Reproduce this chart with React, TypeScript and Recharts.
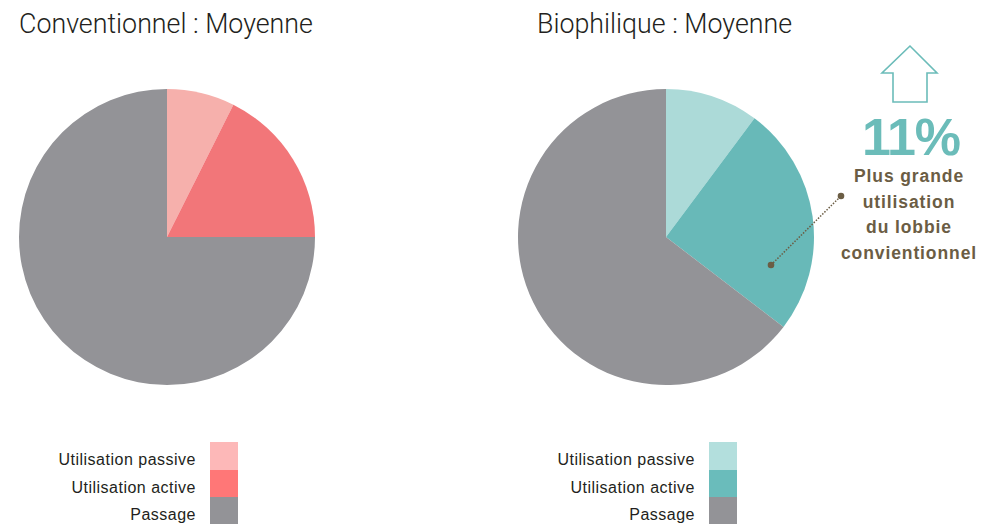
import { Pie, PieChart, Cell } from "recharts";

// slice categories, shared by both pies
const categories = ["Utilisation passive", "Utilisation active", "Passage"];

// percent shares
const conventionnelValues = [7.4, 17.6, 75];
const biophiliqueValues = [10.2, 25.2, 64.6];

const titles = ["Conventionnel : Moyenne", "Biophilique : Moyenne"];

const conventionnelColors = ["#f6b0ac", "#f27679", "#939397"];
const biophiliqueColors = ["#acdad8", "#68b9b8", "#939397"];
const conventionnelLegendColors = ["#fdb8b8", "#ff7777", "#939397"];
const biophiliqueLegendColors = ["#b3dfdd", "#6abcbb", "#939397"];

const highlight = "11%";
const highlightLines = ["Plus grande", "utilisation", "du lobbie", "convientionnel"];

const toData = (values: number[]) =>
  categories.map((name, i) => ({ name, value: values[i] }));

const W = 983;
const H = 524;

function Legend({ right, colors }: { right: number; colors: string[] }) {
  return (
    <div style={{ position: "absolute", left: right - 200, top: 442 }}>
      {categories.map((c, i) => (
        <div key={c} style={{ display: "flex", alignItems: "center", height: i === 0 ? 28 : 27 }}>
          <span
            style={{
              width: 200,
              textAlign: "right",
              fontSize: 16,
              letterSpacing: 0.5,
              color: "#231f20",
              fontFamily: "'Liberation Sans', Arial, sans-serif",
              paddingRight: 14,
              paddingTop: 8,
              boxSizing: "border-box",
            }}
          >
            {c}
          </span>
          <span style={{ width: 28, height: "100%", background: colors[i] }} />
        </div>
      ))}
    </div>
  );
}

export default function App() {
  const titleStyle: React.CSSProperties = {
    position: "absolute",
    top: 8,
    fontSize: 26.8,
    fontWeight: 300,
    color: "#231f20",
    fontFamily: "Roboto, 'Liberation Sans', sans-serif",
    whiteSpace: "nowrap",
  };
  return (
    <div
      style={{
        position: "absolute",
        left: 0,
        top: 0,
        width: W,
        height: H,
        background: "#fff",
        overflow: "hidden",
      }}
    >
      <div style={{ ...titleStyle, left: 19 }}>{titles[0]}</div>
      <div style={{ ...titleStyle, left: 537 }}>{titles[1]}</div>

      <div style={{ position: "absolute", left: 0, top: 0 }}>
        <PieChart width={W} height={H} margin={{ top: 0, right: 0, bottom: 0, left: 0 }}>
          <Pie
            data={toData(conventionnelValues)}
            dataKey="value"
            nameKey="name"
            cx={167}
            cy={237}
            outerRadius={148}
            startAngle={90}
            endAngle={-270}
            stroke="none"
            isAnimationActive={false}
          >
            {conventionnelColors.map((c) => (
              <Cell key={c} fill={c} />
            ))}
          </Pie>
          <Pie
            data={toData(biophiliqueValues)}
            dataKey="value"
            nameKey="name"
            cx={666}
            cy={237}
            outerRadius={148}
            startAngle={90}
            endAngle={-270}
            stroke="none"
            isAnimationActive={false}
          >
            {biophiliqueColors.map((c) => (
              <Cell key={c} fill={c} />
            ))}
          </Pie>
        </PieChart>
      </div>

      <svg
        width={W}
        height={H}
        style={{ position: "absolute", left: 0, top: 0, pointerEvents: "none" }}
      >
        <polygon
          points="910,46 882,73 893,73 893,102 927,102 927,73 937,73"
          fill="none"
          stroke="#6bbcb9"
          strokeWidth={1.6}
        />
        <line
          x1={771}
          y1={265}
          x2={841}
          y2={196}
          stroke="#6b5d44"
          strokeWidth={1.5}
          strokeDasharray="1.5 1.5"
        />
        <circle cx={771} cy={265} r={3.3} fill="#6b5d44" />
        <circle cx={841} cy={196} r={3.3} fill="#6b5d44" />
        <text
          x={911}
          y={155}
          textAnchor="middle"
          fontSize={52}
          fontWeight="bold"
          fill="#6bbcb9"
          fontFamily="'Liberation Sans', Arial, sans-serif"
          letterSpacing={-1}
        >
          {highlight}
        </text>
        {highlightLines.map((t, i) => (
          <text
            key={t}
            x={909}
            y={182 + i * 25.5}
            textAnchor="middle"
            fontSize={17.5}
            fontWeight="bold"
            letterSpacing={0.9}
            fill="#6b5d44"
            fontFamily="'Liberation Sans', Arial, sans-serif"
          >
            {t}
          </text>
        ))}
      </svg>

      <Legend right={238 - 28} colors={conventionnelLegendColors} />
      <Legend right={737 - 28} colors={biophiliqueLegendColors} />
    </div>
  );
}
